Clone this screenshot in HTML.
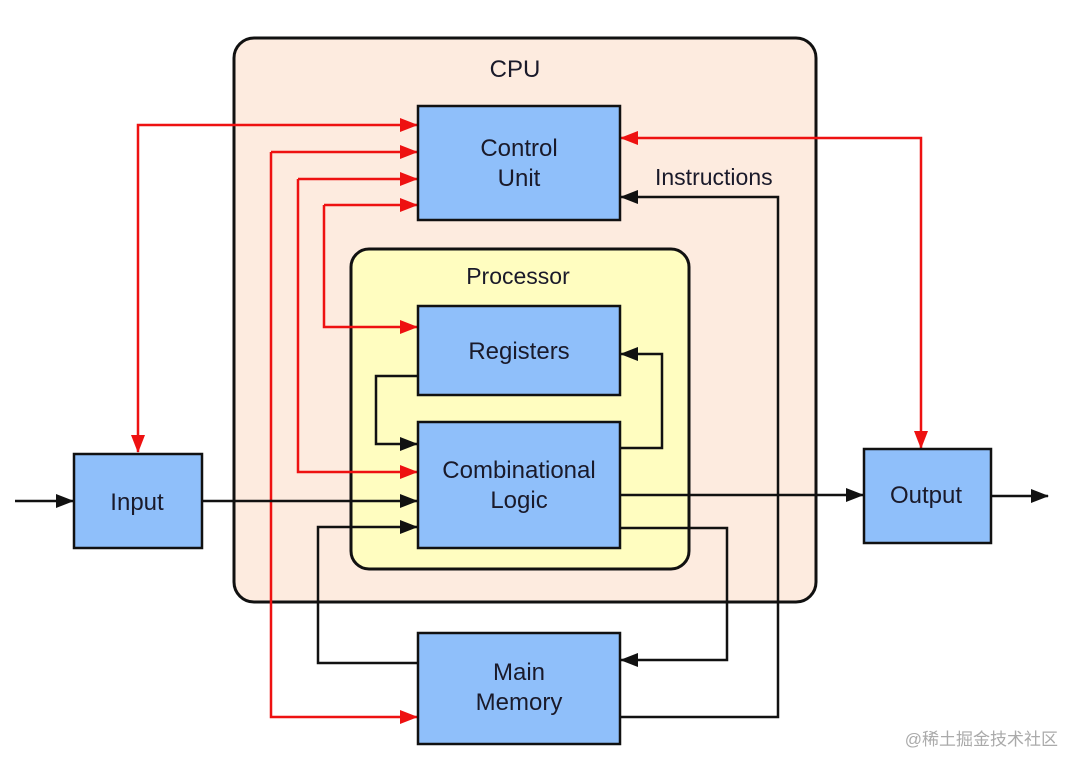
<!DOCTYPE html>
<html><head><meta charset="utf-8"><style>
html,body{margin:0;padding:0;background:#fff;}
svg{display:block;}
text{font-family:"Liberation Sans",sans-serif;fill:#1a1a2a;}
</style></head><body>
<svg width="1080" height="770" viewBox="0 0 1080 770" xmlns="http://www.w3.org/2000/svg">
<defs>
<marker id="r" markerWidth="18" markerHeight="14" refX="17" refY="7" orient="auto" markerUnits="userSpaceOnUse" viewBox="0 0 18 14"><path d="M0,0 L18,7 L0,14 z" fill="#ee1111"/></marker>
<marker id="rs" markerWidth="18" markerHeight="14" refX="17" refY="7" orient="auto-start-reverse" markerUnits="userSpaceOnUse" viewBox="0 0 18 14"><path d="M0,0 L18,7 L0,14 z" fill="#ee1111"/></marker>
<marker id="b" markerWidth="18" markerHeight="14" refX="17" refY="7" orient="auto" markerUnits="userSpaceOnUse" viewBox="0 0 18 14"><path d="M0,0 L18,7 L0,14 z" fill="#111"/></marker>
</defs>
<rect x="234" y="38" width="582" height="564" rx="20" fill="#fdebdf" stroke="#111" stroke-width="3"/>
<text x="515" y="77" font-size="24" text-anchor="middle">CPU</text>
<rect x="351" y="249" width="338" height="320" rx="18" fill="#fffdc0" stroke="#111" stroke-width="3"/>
<text x="518" y="284" font-size="23" text-anchor="middle">Processor</text>

<g fill="none" stroke-width="2.5">
<path d="M417,125 H138 V452" stroke="#ee1111" marker-end="url(#r)" marker-start="url(#rs)"/>
<path d="M271,152 V717 H417" stroke="#ee1111" marker-end="url(#r)"/>
<path d="M271,152 H417" stroke="#ee1111" marker-end="url(#r)"/>
<path d="M298,179 V472 H417" stroke="#ee1111" marker-end="url(#r)"/>
<path d="M298,179 H417" stroke="#ee1111" marker-end="url(#r)"/>
<path d="M324,205 V327 H417" stroke="#ee1111" marker-end="url(#r)"/>
<path d="M324,205 H417" stroke="#ee1111" marker-end="url(#r)"/>
<path d="M621,138 H921 V448" stroke="#ee1111" marker-end="url(#r)" marker-start="url(#rs)"/>
<path d="M620,717 H778 V197 H621" stroke="#111" marker-end="url(#b)"/>
<path d="M418,376 H376 V444 H417" stroke="#111" marker-end="url(#b)"/>
<path d="M620,448 H662 V354 H621" stroke="#111" marker-end="url(#b)"/>
<path d="M202,501 H417" stroke="#111" marker-end="url(#b)"/>
<path d="M620,495 H863" stroke="#111" marker-end="url(#b)"/>
<path d="M991,496 H1048" stroke="#111" marker-end="url(#b)"/>
<path d="M15,501 H73" stroke="#111" marker-end="url(#b)"/>
<path d="M620,528 H727 V660 H621" stroke="#111" marker-end="url(#b)"/>
<path d="M418,663 H318 V527 H417" stroke="#111" marker-end="url(#b)"/>
</g>

<g stroke="#111" stroke-width="2.5" fill="#8fbffa">
<rect x="418" y="106" width="202" height="114"/>
<rect x="418" y="306" width="202" height="89"/>
<rect x="418" y="422" width="202" height="126"/>
<rect x="418" y="633" width="202" height="111"/>
<rect x="74" y="454" width="128" height="94"/>
<rect x="864" y="449" width="127" height="94"/>
</g>
<g font-size="24" text-anchor="middle">
<text x="519" y="156">Control</text>
<text x="519" y="186">Unit</text>
<text x="519" y="359">Registers</text>
<text x="519" y="478">Combinational</text>
<text x="519" y="508">Logic</text>
<text x="519" y="680">Main</text>
<text x="519" y="710">Memory</text>
<text x="137" y="510">Input</text>
<text x="926" y="503">Output</text>
</g>
<text x="655" y="185" font-size="23">Instructions</text>
<text x="1058" y="745" font-size="17" text-anchor="end" style="fill:#aaa;font-family:'Liberation Sans','Noto Sans CJK SC',sans-serif">@稀土掘金技术社区</text>
</svg>
</body></html>
